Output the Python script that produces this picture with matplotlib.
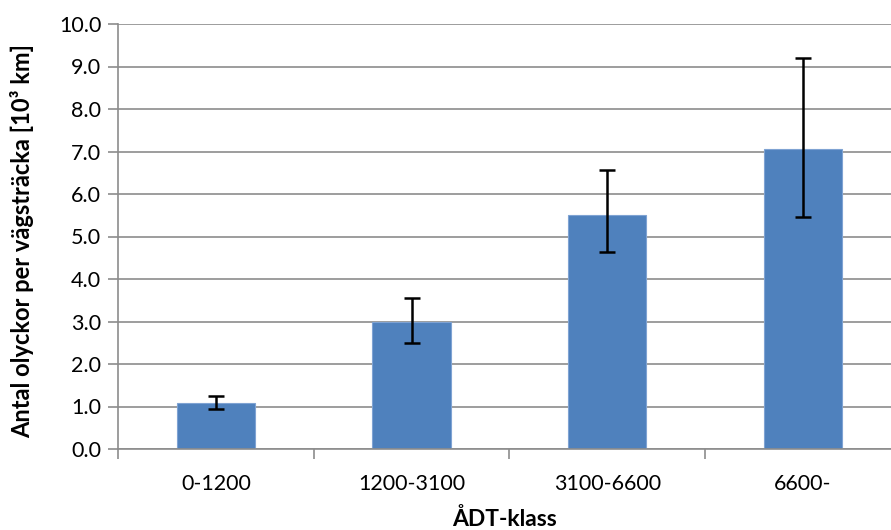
import matplotlib.pyplot as plt
import numpy as np

# data
categories = ['0-1200', '1200-3100', '3100-6600', '6600-']
values = [1.08, 2.98, 5.50, 7.07]
err_low = [0.94, 2.50, 4.63, 5.46]
err_high = [1.24, 3.55, 6.57, 9.20]
yticks = [0, 1, 2, 3, 4, 5, 6, 7, 8, 9, 10]

plt.rcParams['font.family'] = ['Lato', 'DejaVu Sans']

fig = plt.figure(figsize=(8.91, 5.30), dpi=100)
ax = fig.add_axes([118 / 891, 81 / 530, (891 - 118) / 891, 425 / 530])

x = np.arange(len(categories))
yerr = [np.array(values) - np.array(err_low), np.array(err_high) - np.array(values)]

ax.bar(x, values, width=0.4, color='#4F81BD', edgecolor='#7FA3D3', linewidth=0.8, zorder=2)
ax.errorbar(x, values, yerr=yerr, fmt='none', ecolor='black', elinewidth=1.8,
            capsize=6, capthick=1.8, zorder=3)

ax.set_xlim(-0.5, 3.45)
ax.set_ylim(0, 10)
ax.set_yticks(yticks)
ax.set_yticklabels([f'{v:.1f}' for v in yticks], fontsize=15.5)
ax.yaxis.grid(True, color='#8c8c8c', linewidth=1.2, zorder=0)
ax.set_axisbelow(True)

# category boundaries as major ticks, labels on minor ticks
ax.set_xticks(np.arange(-0.5, 3.5, 1.0))
ax.set_xticklabels([])
ax.set_xticks(x, minor=True)
ax.set_xticklabels(categories, minor=True, fontsize=15.5)
ax.tick_params(axis='x', which='major', length=7, width=1.2, color='#8c8c8c', direction='out')
ax.tick_params(axis='x', which='minor', length=0, pad=18)
ax.tick_params(axis='y', length=7, width=1.2, color='#8c8c8c', direction='out', pad=5)

for side in ['top', 'right']:
    ax.spines[side].set_visible(False)
for side in ['left', 'bottom']:
    ax.spines[side].set_color('#8c8c8c')
    ax.spines[side].set_linewidth(1.2)

ax.set_ylabel('Antal olyckor per vägsträcka [10³ km]', fontsize=17, fontweight='bold')
ax.yaxis.set_label_coords(-84 / 773, 0.49)
ax.set_xlabel('ÅDT-klass', fontsize=16.5, fontweight='bold', labelpad=10)

fig.savefig('out.png', dpi=100)
